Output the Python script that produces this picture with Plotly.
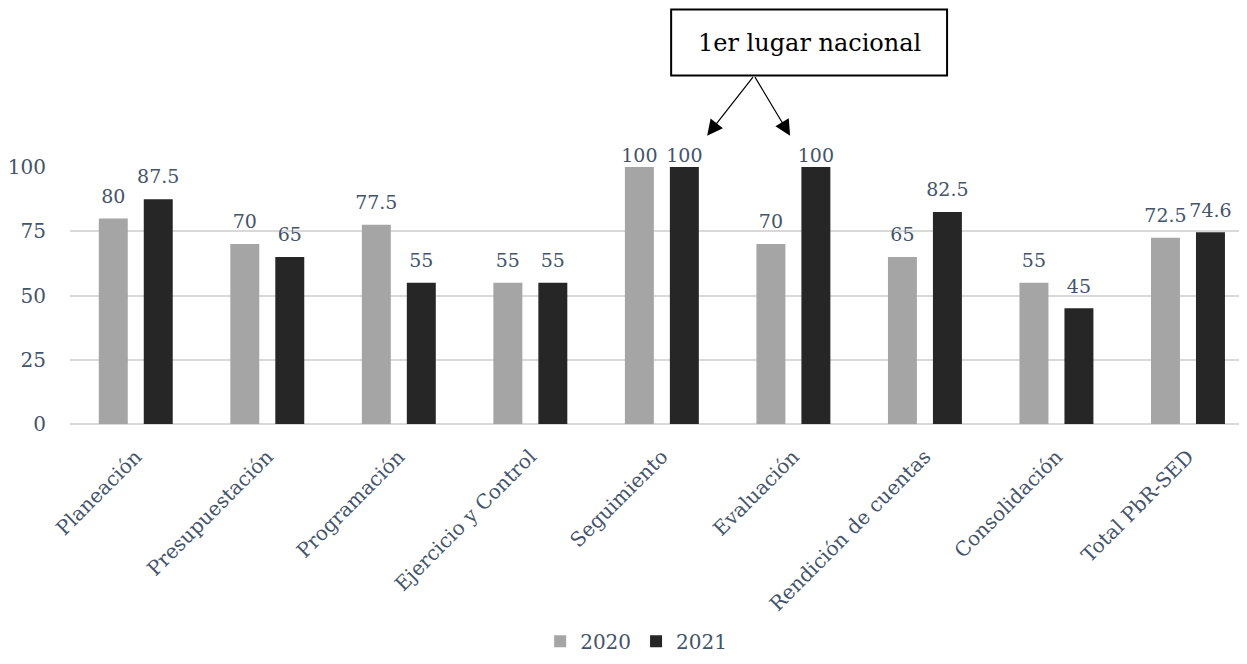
import plotly.graph_objects as go

categories = ["Planeación", "Presupuestación", "Programación", "Ejercicio y Control",
              "Seguimiento", "Evaluación", "Rendición de cuentas", "Consolidación", "Total PbR-SED"]
values_2020 = [80, 70, 77.5, 55, 100, 70, 65, 55, 72.5]
values_2021 = [87.5, 65, 55, 55, 100, 100, 82.5, 45, 74.6]
series_names = ["2020", "2021"]
y_ticks = [0, 25, 50, 75, 100]

# page has an 8px body margin; size the figure so the page does not overflow
OFF = 8
W, H = 1247 - 2 * OFF, 664 - 2 * OFF
P_LEFT, P_RIGHT, P_TOP, P_BOT = 69.7, 1239.0, 167.3, 424.0   # plot area in page pixels
L = P_LEFT - OFF
T = P_TOP - OFF
B = H - (P_BOT - OFF)
R = W - (P_RIGHT - OFF)
plot_w = P_RIGHT - P_LEFT
plot_h = P_BOT - P_TOP
CAT_W = 131.56

FONT = "DejaVu Serif"
TXT = "#44546A"
GAP = 0.316
Y_MAX = 100

def px_x(p):
    return (p - P_LEFT) / plot_w

def px_y(p):
    return (P_BOT - p) / plot_h

fig = go.Figure()
series = [(series_names[0], values_2020, "#A5A5A5", "g1"),
          (series_names[1], values_2021, "#262626", "g2")]
for name, vals, col, grp in series:
    fig.add_trace(go.Bar(
        x=categories, y=vals, name=name, offsetgroup=grp,
        marker=dict(color=col, line=dict(width=0)),
    ))
for name, vals, col, grp in series:
    # labels at the top of the axis are kept tight to the bar (as in the source)
    pad = [0 if v >= Y_MAX else 16 for v in vals]
    fig.add_trace(go.Scatter(
        x=categories, y=vals, offsetgroup=grp, mode="markers+text",
        text=[f"{v:g}" for v in vals], textposition="top center",
        marker=dict(size=pad, opacity=0), showlegend=False, cliponaxis=False,
        textfont=dict(family=FONT, size=19, color=TXT), hoverinfo="skip",
    ))

x_right = -0.5 + plot_w / CAT_W

fig.update_layout(
    width=W, height=H,
    margin=dict(l=L, r=R, t=T, b=B, autoexpand=False),
    paper_bgcolor="white", plot_bgcolor="white",
    barmode="group", bargap=GAP, bargroupgap=0.356,
    scattermode="group", scattergap=GAP,
    font=dict(family=FONT, color=TXT, size=20),
    showlegend=True,
    legend=dict(orientation="h", x=px_x(636), xanchor="center", y=px_y(641), yanchor="middle",
                font=dict(family=FONT, size=20, color=TXT), itemwidth=30,
                traceorder="normal"),
    xaxis=dict(range=[-0.5, x_right], tickangle=-45, showgrid=False, showline=False,
               automargin=False,
               tickfont=dict(family=FONT, size=20, color=TXT), ticks="", ticklabelstandoff=16),
    yaxis=dict(range=[0, Y_MAX], tickvals=y_ticks, showgrid=True, gridcolor="#D9D9D9",
               gridwidth=1.5, zeroline=True, zerolinecolor="#D9D9D9", zerolinewidth=1.5,
               showline=False, ticks="", ticklabelstandoff=23, automargin=False,
               tickfont=dict(family=FONT, size=20, color=TXT)),
)

# annotation box
fig.add_shape(type="rect", xref="paper", yref="paper",
              x0=px_x(671), x1=px_x(947), y0=px_y(76), y1=px_y(10),
              line=dict(color="black", width=2), fillcolor="white")
fig.add_annotation(xref="paper", yref="paper", x=px_x(809), y=px_y(43),
                   xanchor="center", yanchor="middle",
                   text="1er lugar nacional", showarrow=False,
                   font=dict(family=FONT, size=24, color="black"))
for tip in (707, 790):
    fig.add_annotation(xref="paper", yref="paper", x=px_x(tip), y=px_y(136),
                       ax=754 - tip, ay=76 - 136, text="", showarrow=True,
                       arrowhead=2, arrowsize=2.6, arrowwidth=1.2, arrowcolor="black")

fig.write_html("out.html")
